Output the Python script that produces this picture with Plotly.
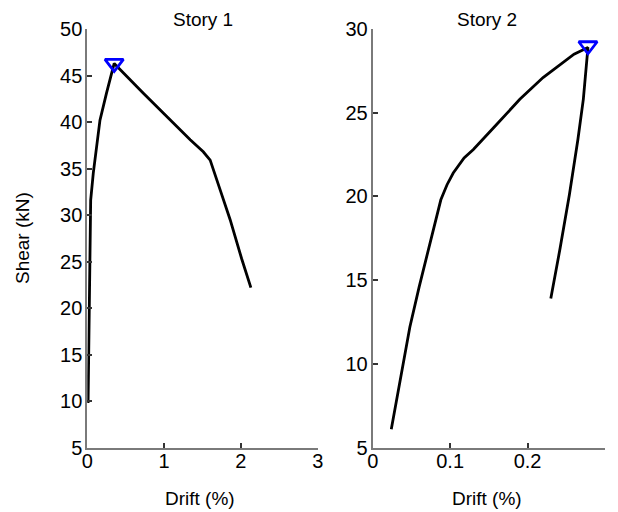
import plotly.graph_objects as go

# Story 1 pushover curve: drift (%) vs storey shear (kN)
story1_drift = [0.01, 0.025, 0.035, 0.044, 0.078, 0.12, 0.165, 0.25, 0.35,
                0.73, 1.03, 1.34, 1.51, 1.60, 1.73, 1.86, 2.01, 2.13]
story1_shear = [9.8, 18.0, 25.0, 31.6, 34.5, 37.3, 40.2, 43.1, 46.3,
                43.1, 40.6, 38.1, 36.8, 35.9, 32.7, 29.5, 25.3, 22.2]
story1_peak = (0.35, 46.3)

# Story 2 pushover curve
story2_drift = [0.024, 0.036, 0.048, 0.060, 0.072, 0.088, 0.096, 0.104, 0.118,
                0.130, 0.160, 0.190, 0.220, 0.242, 0.260, 0.278,
                0.272, 0.265, 0.254, 0.242, 0.230]
story2_shear = [6.1, 9.2, 12.2, 14.6, 16.8, 19.8, 20.7, 21.4, 22.3,
                22.8, 24.3, 25.8, 27.1, 27.9, 28.5, 28.9,
                25.8, 23.4, 20.1, 16.9, 13.9]
story2_peak = (0.278, 29.0)

x1_ticks = [0, 1, 2, 3]
y1_ticks = [5, 10, 15, 20, 25, 30, 35, 40, 45, 50]
x2_ticks = [0, 0.1, 0.2, 0.3]
y2_ticks = [5, 10, 15, 20, 25, 30]

FONT = "Liberation Sans, Arial, sans-serif"
W, H = 618, 512

fig = go.Figure()

line_style = dict(color="black", width=2.8)
marker_style = dict(symbol="triangle-down-open", size=16,
                    color="#0000ff", line=dict(color="#0000ff", width=2.8))

fig.add_trace(go.Scatter(x=story1_drift, y=story1_shear, mode="lines",
                         line=line_style, xaxis="x", yaxis="y", showlegend=False))
fig.add_trace(go.Scatter(x=[story1_peak[0]], y=[story1_peak[1]], mode="markers",
                         marker=marker_style, xaxis="x", yaxis="y", showlegend=False))
fig.add_trace(go.Scatter(x=story2_drift, y=story2_shear, mode="lines",
                         line=line_style, xaxis="x2", yaxis="y2", showlegend=False))
fig.add_trace(go.Scatter(x=[story2_peak[0]], y=[story2_peak[1]], mode="markers",
                         marker=marker_style, xaxis="x2", yaxis="y2", showlegend=False))

axis_common = dict(showline=True, linecolor="#7a7a7a", linewidth=2,
                   ticks="inside", ticklen=5, tickwidth=1.5, tickcolor="#333333",
                   showgrid=False, zeroline=False, mirror=False, automargin=False,
                   tickfont=dict(family=FONT, size=20, color="black"))

ydom = [1 - 447.6 / H, 1 - 29 / H]

fig.update_layout(
    width=W, height=H,
    margin=dict(l=0, r=0, t=0, b=0),
    paper_bgcolor="white", plot_bgcolor="white",
    font=dict(family=FONT, size=20, color="black"),
    xaxis=dict(domain=[87.3 / W, 317.7 / W], range=[0, 3],
               tickvals=x1_ticks, anchor="y", ticklabelstandoff=-6, **axis_common),
    yaxis=dict(domain=ydom, range=[5, 50], tickvals=y1_ticks, anchor="x",
               ticklabelstandoff=-1, **axis_common),
    xaxis2=dict(domain=[372.7 / W, 605 / W], range=[0, 0.3],
                tickvals=x2_ticks, ticktext=["0", "0.1", "0.2", "0.3"],
                anchor="y2", ticklabelstandoff=-6, **axis_common),
    yaxis2=dict(domain=ydom, range=[5, 30], tickvals=y2_ticks, anchor="x2",
                ticklabelstandoff=-1, **axis_common),
)

# titles and axis labels placed in pixel positions, converted to paper fractions
labels = [
    ("Story 1", 203, 19, 0),
    ("Story 2", 487, 19, 0),
    ("Drift (%)", 200, 498, 0),
    ("Drift (%)", 487, 498, 0),
    ("Shear (kN)", 22, 238, -90),
]
for text, px, py, ang in labels:
    fig.add_annotation(text=text, x=px / W, y=1 - py / H, xref="paper", yref="paper",
                       showarrow=False, textangle=ang, xanchor="center", yanchor="middle",
                       font=dict(family=FONT, size=19, color="black"))

fig.write_html("out.html")
